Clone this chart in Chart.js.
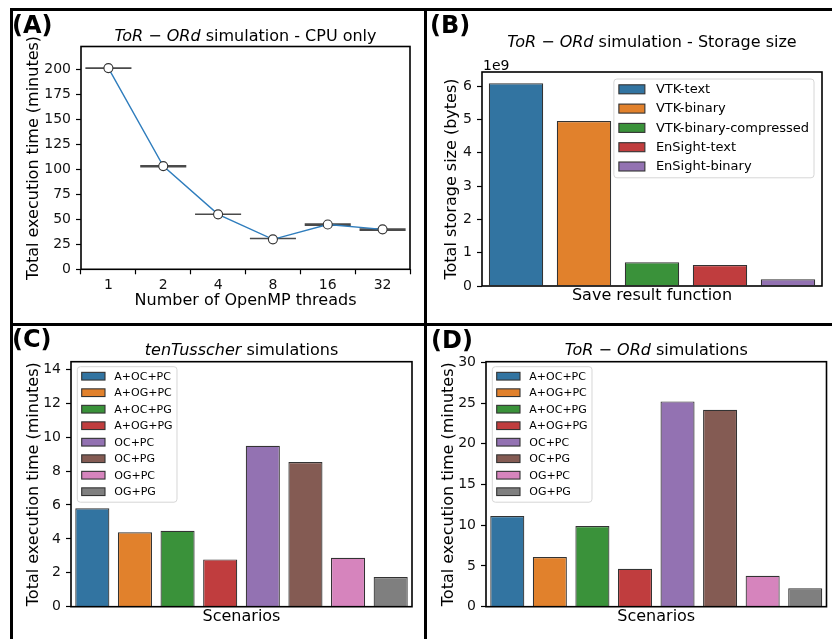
<!DOCTYPE html>
<html>
<head>
<meta charset="utf-8">
<title>Simulation benchmarks</title>
<script src="https://cdn.jsdelivr.net/npm/chart.js@4.4.0/dist/chart.umd.min.js"></script>
<style>
  body { margin: 0; background: #fff; }
  #wrap { position: relative; width: 832px; height: 639px; overflow: hidden; background: #fff; }
  #wrap canvas { position: absolute; left: 0; top: 0; }
  .rule { position: absolute; background: #000; }
  .tag { position: absolute; font: bold 24px "DejaVu Sans"; line-height: 24px; color: #000; }
</style>
</head>
<body>
<div id="wrap">
  <canvas id="chartA" width="832" height="639"></canvas>
  <canvas id="chartB" width="832" height="639"></canvas>
  <canvas id="chartC" width="832" height="639"></canvas>
  <canvas id="chartD" width="832" height="639"></canvas>
  <div class="rule" style="left:10px; top:8px; width:822px; height:3px;"></div>
  <div class="rule" style="left:10px; top:8px; width:3px; height:631px;"></div>
  <div class="rule" style="left:10px; top:323px; width:822px; height:3px;"></div>
  <div class="rule" style="left:424px; top:8px; width:3px; height:631px;"></div>
  <div class="tag" style="left:12px; top:13px;">(A)</div>
  <div class="tag" style="left:430px; top:13px;">(B)</div>
  <div class="tag" style="left:12px; top:327px;">(C)</div>
  <div class="tag" style="left:431px; top:328px;">(D)</div>
</div>
<script>
// panel A - CPU only runs
const threadLabels = ['1', '2', '4', '8', '16', '32'];
const cpuTimes = [201.4, 103.3, 55, 30, 44.8, 40];
const cpuTimesLow = [200.6, 102, 54.3, 30, 43.3, 38.4];
const cpuTimesHigh = [202.2, 104.5, 55.8, 31.5, 46.1, 41.1];

// panel B - storage size per output format, in units of 1e9 bytes
const formatLabels = ['VTK-text', 'VTK-binary', 'VTK-binary-compressed', 'EnSight-text', 'EnSight-binary'];
const storageSize1e9 = [6.08, 4.95, 0.71, 0.63, 0.2];

// panels C and D - scenarios
const scenarioLabels = ['A+OC+PC', 'A+OG+PC', 'A+OC+PG', 'A+OG+PG', 'OC+PC', 'OC+PG', 'OG+PC', 'OG+PG'];
const tenTusscherTimes = [5.8, 4.39, 4.48, 2.79, 9.49, 8.53, 2.89, 1.75];
const torOrdTimes = [11.13, 6.1, 9.9, 4.66, 25.2, 24.17, 3.8, 2.26];

// titles: [text, italic]
const titleA = [['ToR', true], [' \u2212 ', false], ['ORd', true], [' simulation - CPU only', false]];
const titleB = [['ToR', true], [' \u2212 ', false], ['ORd', true], [' simulation - Storage size', false]];
const titleC = [['tenTusscher', true], [' simulations', false]];
const titleD = [['ToR', true], [' \u2212 ', false], ['ORd', true], [' simulations', false]];

const palette = ['#3274a1', '#e1812c', '#3a923a', '#c03d3e', '#9372b2', '#845b53', '#d684bd', '#7f7f7f'];
const FONT = '"DejaVu Sans", sans-serif';

Chart.defaults.font.family = FONT;
Chart.defaults.color = '#000';

// frame, mixed-style title, offset text and boxed legend
const panelDecor = {
    id: 'panelDecor',
    afterDatasetsDraw(chart, args, opts) {
        const a = chart.chartArea;
        const ctx = chart.ctx;
        ctx.save();
        ctx.strokeStyle = '#000';
        ctx.lineWidth = 1.6;
        ctx.strokeRect(a.left, a.top, a.right - a.left, a.bottom - a.top);
        ctx.restore();
    },
    afterDraw(chart, args, opts) {
        const a = chart.chartArea;
        const ctx = chart.ctx;
        ctx.save();
        if (opts.title) {
            const fonts = opts.title.map(p => (p[1] ? 'italic ' : '') + '16px ' + FONT);
            const widths = opts.title.map((p, i) => { ctx.font = fonts[i]; return ctx.measureText(p[0]).width; });
            let x = (a.left + a.right) / 2 - widths.reduce((s, w) => s + w, 0) / 2;
            ctx.fillStyle = '#000';
            ctx.textBaseline = 'alphabetic';
            ctx.textAlign = 'left';
            opts.title.forEach((p, i) => {
                ctx.font = fonts[i];
                ctx.fillText(p[0], x, a.top - opts.titleGap);
                x += widths[i];
            });
        }
        if (opts.offsetText) {
            ctx.font = '14px ' + FONT;
            ctx.textAlign = 'left';
            ctx.fillText(opts.offsetText, a.left + 1, a.top - 2);
        }
        const lg = opts.legend;
        if (lg) {
            ctx.font = lg.size + 'px ' + FONT;
            const textW = Math.max(...lg.labels.map(t => ctx.measureText(t).width));
            const w = lg.pad + lg.swatchW + lg.gap + textW + lg.pad;
            const h = lg.rowH * (lg.labels.length - 1) + lg.first * 2 + 1;
            const left = lg.right ? a.right - lg.dx - w : a.left + lg.dx;
            const top = a.top + lg.dy;
            ctx.fillStyle = 'rgba(255,255,255,0.8)';
            ctx.strokeStyle = '#d6d6d6';
            ctx.lineWidth = 1;
            ctx.beginPath();
            ctx.roundRect(left, top, w, h, 3);
            ctx.fill();
            ctx.stroke();
            ctx.textBaseline = 'middle';
            lg.labels.forEach((t, i) => {
                const cy = top + lg.first + i * lg.rowH;
                ctx.fillStyle = lg.colors[i];
                ctx.fillRect(left + lg.pad, cy - lg.swatchH / 2, lg.swatchW, lg.swatchH);
                ctx.strokeStyle = '#333';
                ctx.lineWidth = 1.1;
                ctx.strokeRect(left + lg.pad, cy - lg.swatchH / 2, lg.swatchW, lg.swatchH);
                ctx.fillStyle = '#000';
                ctx.fillText(t, left + lg.pad + lg.swatchW + lg.gap, cy + 0.5);
            });
        }
        ctx.restore();
    }
};
Chart.register(panelDecor);

// build options so the plot box lands on the given page box
function panelOptions(box, yAxis, xAxis, decor) {
    const padLeft = box.yTitleX - 9.6;
    const xHeight = box.xTitleY - box.bottom + 9.6;
    return {
        responsive: false,
        animation: false,
        layout: {
            padding: {
                left: padLeft,
                right: 832 - box.right,
                top: box.top,
                bottom: 639 - box.bottom - xHeight
            }
        },
        plugins: {
            legend: { display: false },
            tooltip: { enabled: false },
            panelDecor: decor
        },
        scales: {
            x: Object.assign({
                grid: { display: false },
                border: { display: false },
                title: { display: true, text: xAxis.title, font: { size: 16 }, padding: 0 },
                afterFit: s => { s.height = xHeight; }
            }, xAxis.extra),
            y: {
                min: 0,
                max: yAxis.max,
                grid: { drawOnChartArea: false, drawTicks: true, tickLength: 5, tickColor: '#000', tickWidth: 1.2 },
                border: { display: false },
                ticks: { stepSize: yAxis.step, includeBounds: false, padding: 5, font: { size: 14 }, color: '#111' },
                title: { display: true, text: yAxis.title, font: { size: 16 }, padding: 0 },
                afterFit: s => { s.width = box.left - padLeft; }
            }
        }
    };
}

const hiddenCategory = { ticks: { display: false } };

// (A)
new Chart(document.getElementById('chartA'), {
    type: 'bar',
    data: {
        labels: threadLabels,
        datasets: [
            {
                type: 'line',
                data: cpuTimes,
                order: 0,
                borderColor: '#2f7dbd',
                borderWidth: 1.4,
                pointRadius: 4.5,
                pointBackgroundColor: '#fff',
                pointBorderColor: '#333',
                pointBorderWidth: 1.1,
                tension: 0
            },
            {
                type: 'bar',
                data: cpuTimesLow.map((lo, i) => [lo, cpuTimesHigh[i]]),
                order: 1,
                backgroundColor: '#4a4a4a',
                borderWidth: 0,
                barPercentage: 0.84,
                categoryPercentage: 1
            }
        ]
    },
    options: panelOptions(
        { left: 81, right: 410, top: 46.5, bottom: 269.3, yTitleX: 33.5, xTitleY: 300.5 },
        { max: 223, step: 25, title: 'Total execution time (minutes)' },
        {
            title: 'Number of OpenMP threads',
            extra: {
                offset: true,
                grid: { display: true, drawOnChartArea: false, drawTicks: true, tickLength: 5, tickColor: '#000', tickWidth: 1.2 },
                ticks: { padding: 3, font: { size: 14 }, color: '#111' }
            }
        },
        { title: titleA, titleGap: 6 }
    )
});

// (B)
new Chart(document.getElementById('chartB'), {
    type: 'bar',
    data: {
        labels: formatLabels,
        datasets: [{
            data: storageSize1e9,
            backgroundColor: palette.slice(0, 5),
            borderColor: '#333',
            borderWidth: 1.2,
            barPercentage: 0.8,
            categoryPercentage: 1
        }]
    },
    options: panelOptions(
        { left: 482, right: 822, top: 72, bottom: 286, yTitleX: 451.5, xTitleY: 296 },
        { max: 6.42, step: 1, title: 'Total storage size (bytes)' },
        { title: 'Save result function', extra: hiddenCategory },
        {
            title: titleB, titleGap: 25, offsetText: '1e9',
            legend: {
                labels: formatLabels, colors: palette.slice(0, 5), size: 13,
                right: true, dx: 8, dy: 7, pad: 5, swatchW: 26, swatchH: 9, gap: 11, rowH: 19.3, first: 10.3
            }
        }
    )
});

// (C)
new Chart(document.getElementById('chartC'), {
    type: 'bar',
    data: {
        labels: scenarioLabels,
        datasets: [{
            data: tenTusscherTimes,
            backgroundColor: palette,
            borderColor: '#333',
            borderWidth: 1.2,
            barPercentage: 0.8,
            categoryPercentage: 1
        }]
    },
    options: panelOptions(
        { left: 71, right: 412, top: 361.7, bottom: 606.7, yTitleX: 33.5, xTitleY: 616.5 },
        { max: 14.45, step: 2, title: 'Total execution time (minutes)' },
        { title: 'Scenarios', extra: hiddenCategory },
        {
            title: titleC, titleGap: 6.5,
            legend: {
                labels: scenarioLabels, colors: palette, size: 11,
                right: false, dx: 6.3, dy: 5, pad: 4.4, swatchW: 23.3, swatchH: 7.7, gap: 9.3, rowH: 16.5, first: 9.5
            }
        }
    )
});

// (D)
new Chart(document.getElementById('chartD'), {
    type: 'bar',
    data: {
        labels: scenarioLabels,
        datasets: [{
            data: torOrdTimes,
            backgroundColor: palette,
            borderColor: '#333',
            borderWidth: 1.2,
            barPercentage: 0.8,
            categoryPercentage: 1
        }]
    },
    options: panelOptions(
        { left: 486, right: 826.5, top: 361.7, bottom: 606.7, yTitleX: 449, xTitleY: 616.5 },
        { max: 30.07, step: 5, title: 'Total execution time (minutes)' },
        { title: 'Scenarios', extra: hiddenCategory },
        {
            title: titleD, titleGap: 6.5,
            legend: {
                labels: scenarioLabels, colors: palette, size: 11,
                right: false, dx: 6.3, dy: 5, pad: 4.4, swatchW: 23.3, swatchH: 7.7, gap: 9.3, rowH: 16.5, first: 9.5
            }
        }
    )
});
</script>
</body>
</html>
